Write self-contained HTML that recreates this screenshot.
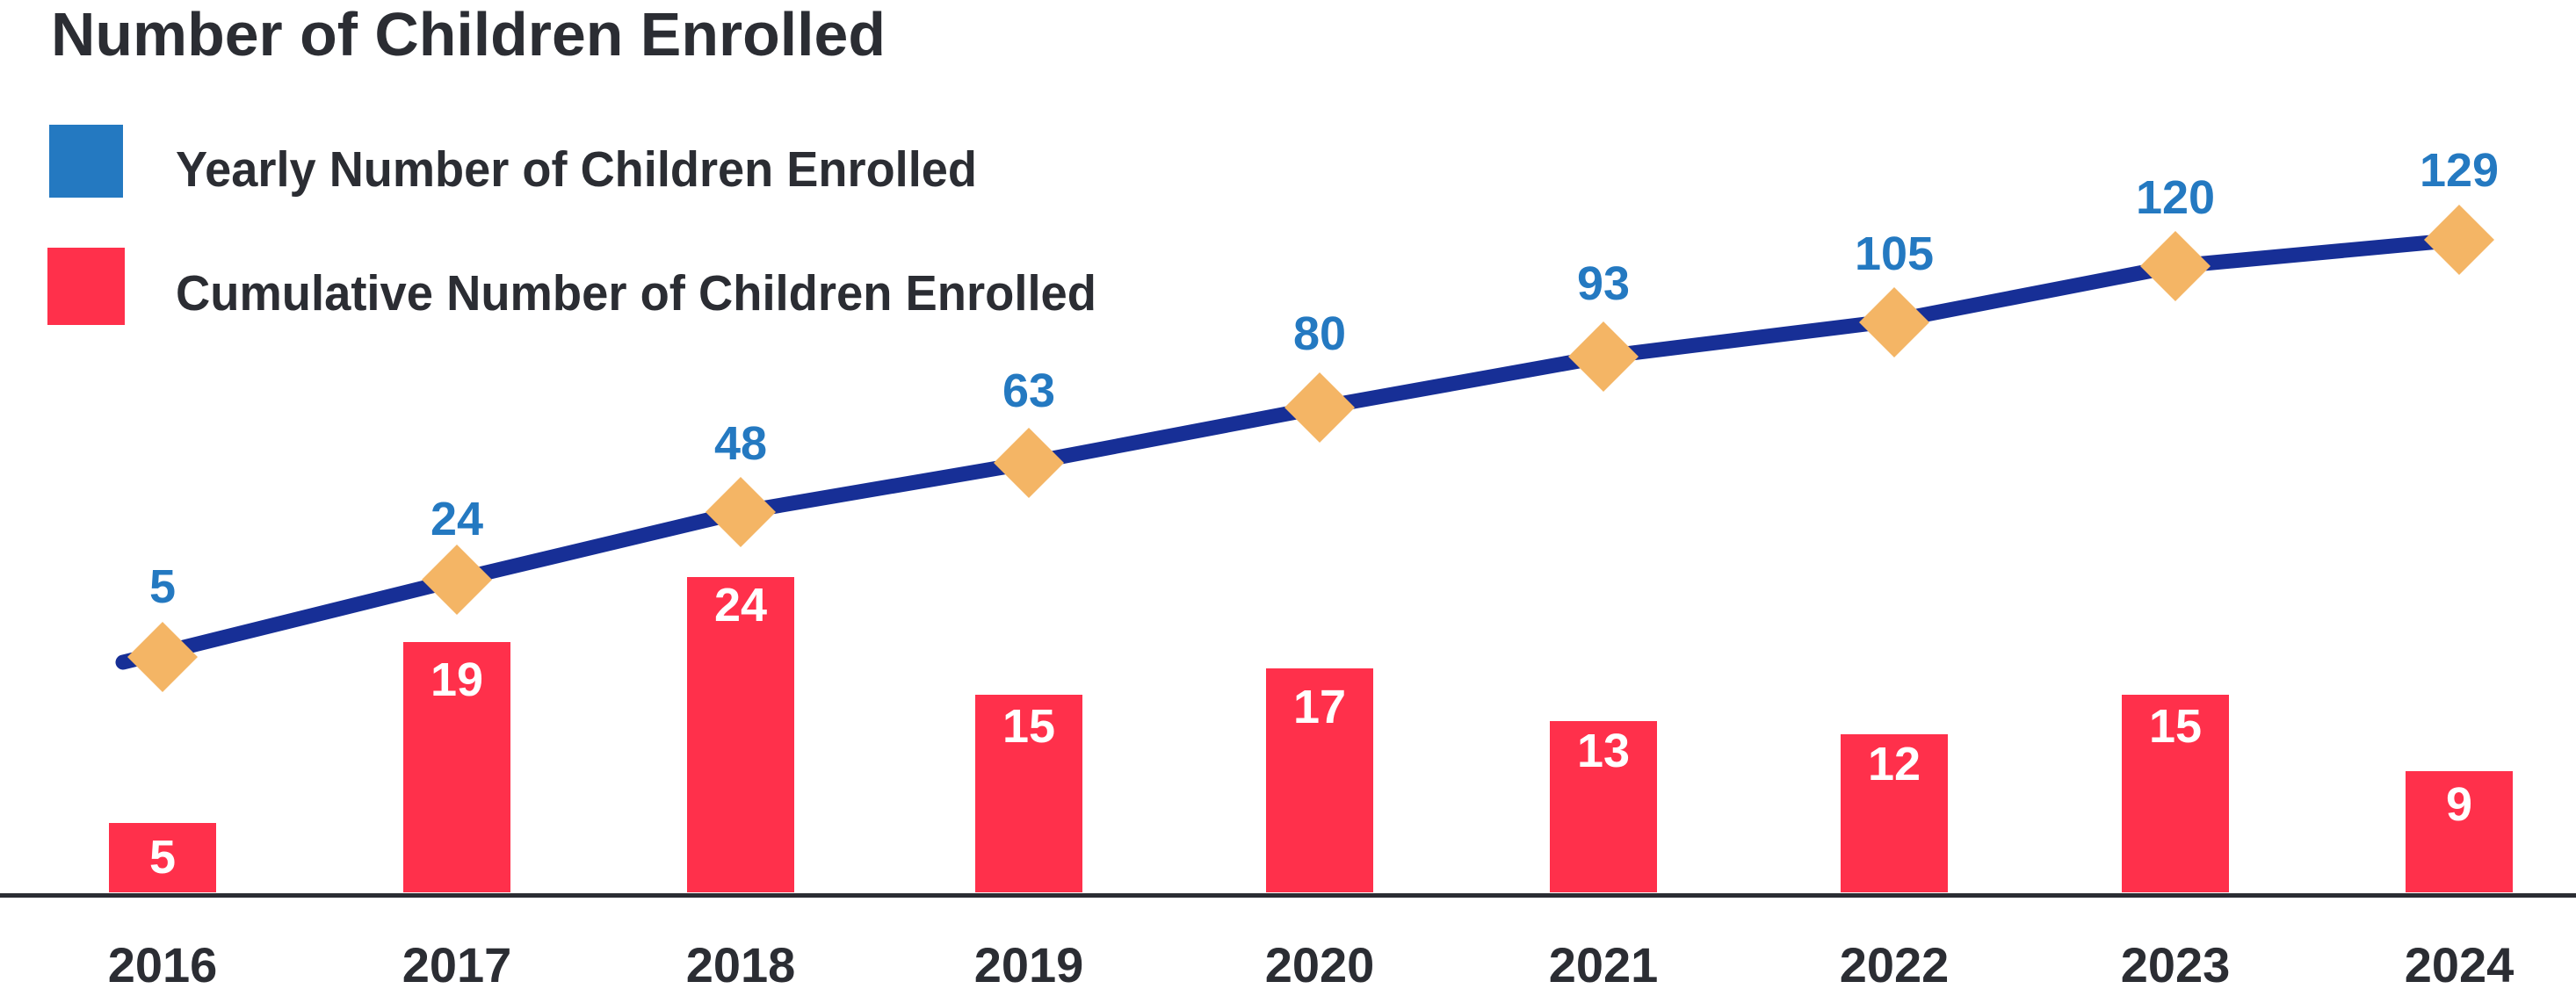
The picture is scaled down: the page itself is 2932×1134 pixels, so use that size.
<!DOCTYPE html>
<html><head><meta charset="utf-8"><style>
html,body{margin:0;padding:0;background:#fff;}
svg{display:block;}
text{font-family:"Liberation Sans",sans-serif;font-weight:bold;}
</style></head><body>
<svg width="2932" height="1134" viewBox="0 0 2932 1134" xmlns="http://www.w3.org/2000/svg">
<rect width="2932" height="1134" fill="#fff"/>
<text x="58" y="63" font-size="70" fill="#2b2d33" textLength="950" lengthAdjust="spacingAndGlyphs">Number of Children Enrolled</text>
<rect x="56" y="142" width="84" height="83" fill="#2479c1"/>
<rect x="54" y="282" width="88" height="88" fill="#ff304b"/>
<text x="200" y="212" font-size="57" fill="#2b2d33" textLength="912" lengthAdjust="spacingAndGlyphs">Yearly Number of Children Enrolled</text>
<text x="200" y="353" font-size="57" fill="#2b2d33" textLength="1048" lengthAdjust="spacingAndGlyphs">Cumulative Number of Children Enrolled</text>
<rect x="0" y="1017" width="2932" height="5" fill="#2b2d33"/>
<g fill="#ff304b">
<rect x="124" y="937" width="122" height="79"/>
<rect x="459" y="731" width="122" height="285"/>
<rect x="782" y="657" width="122" height="359"/>
<rect x="1110" y="791" width="122" height="225"/>
<rect x="1441" y="761" width="122" height="255"/>
<rect x="1764" y="821" width="122" height="195"/>
<rect x="2095" y="836" width="122" height="180"/>
<rect x="2415" y="791" width="122" height="225"/>
<rect x="2738" y="878" width="122" height="138"/>
</g>
<g fill="#fff" font-size="54" text-anchor="middle">
<text x="185" y="994">5</text>
<text x="520" y="792">19</text>
<text x="843" y="707">24</text>
<text x="1171" y="845">15</text>
<text x="1502" y="823">17</text>
<text x="1825" y="873">13</text>
<text x="2156" y="888">12</text>
<text x="2476" y="845">15</text>
<text x="2799" y="934">9</text>
</g>
<polyline points="140,754 185,743 520,660 843,583 1171,527 1502,464 1825,406 2156,365 2476,303 2799,273" fill="none" stroke="#172f96" stroke-width="17" stroke-linecap="round" stroke-linejoin="round"/>
<g fill="#f4b565">
<path d="M185,708 L225,748 L185,788 L145,748Z"/>
<path d="M520,620 L560,660 L520,700 L480,660Z"/>
<path d="M843,543 L883,583 L843,623 L803,583Z"/>
<path d="M1171,487 L1211,527 L1171,567 L1131,527Z"/>
<path d="M1502,424 L1542,464 L1502,504 L1462,464Z"/>
<path d="M1825,366 L1865,406 L1825,446 L1785,406Z"/>
<path d="M2156,327 L2196,367 L2156,407 L2116,367Z"/>
<path d="M2476,263 L2516,303 L2476,343 L2436,303Z"/>
<path d="M2799,233 L2839,273 L2799,313 L2759,273Z"/>
</g>
<g fill="#2479c1" font-size="54" text-anchor="middle">
<text x="185" y="686">5</text>
<text x="520" y="609">24</text>
<text x="843" y="523">48</text>
<text x="1171" y="463">63</text>
<text x="1502" y="398">80</text>
<text x="1825" y="341">93</text>
<text x="2156" y="307">105</text>
<text x="2476" y="243">120</text>
<text x="2799" y="212">129</text>
</g>
<g fill="#2b2d33" font-size="56" text-anchor="middle">
<text x="185" y="1118">2016</text>
<text x="520" y="1118">2017</text>
<text x="843" y="1118">2018</text>
<text x="1171" y="1118">2019</text>
<text x="1502" y="1118">2020</text>
<text x="1825" y="1118">2021</text>
<text x="2156" y="1118">2022</text>
<text x="2476" y="1118">2023</text>
<text x="2799" y="1118">2024</text>
</g>
</svg>
</body></html>
